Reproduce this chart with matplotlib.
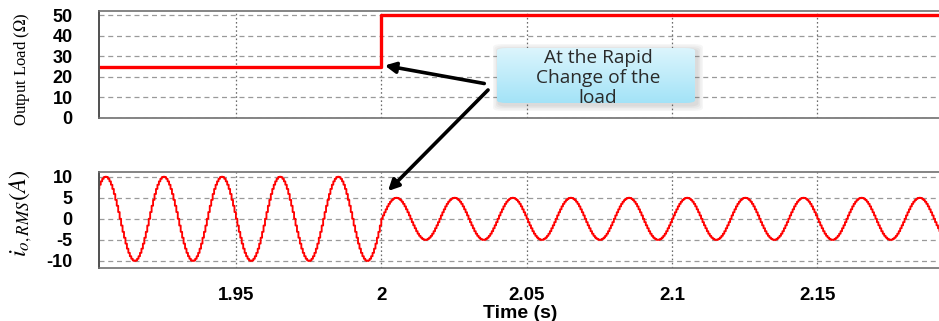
import numpy as np
import matplotlib
matplotlib.use("Agg")
import matplotlib.pyplot as plt
from matplotlib.patches import FancyBboxPatch, FancyArrowPatch

plt.rcParams["mathtext.fontset"] = "stix"

# ---------------- data ----------------
x_limits = [1.9029, 2.1925]
x_ticks = [1.95, 2.0, 2.05, 2.1, 2.15]
x_tick_labels = ["1.95", "2", "2.05", "2.1", "2.15"]

load_time = [1.90, 2.0, 2.20]          # step times (s)
load_value = [25, 50, 50]              # output load (ohm)
load_ticks = [0, 10, 20, 30, 40, 50]

change_time = 2.0
amp_before = 10.0                      # current peak before load change (A)
amp_after = 5.0                        # current peak after load change (A)
sample_dt = 0.0005                     # staircase step of the inverter output (s)
t_start, t_end = 1.90, 2.20
# one 20 ms cycle of the (normalised) staircase current
cycle_shape = [0.00, 0.16, 0.31, 0.45, 0.59, 0.71, 0.81, 0.89, 0.95, 0.99,
               1.00, 0.99, 0.95, 0.89, 0.81, 0.71, 0.59, 0.45, 0.31, 0.16,
               0.00, -0.16, -0.31, -0.45, -0.59, -0.71, -0.81, -0.89, -0.95, -0.99,
               -1.00, -0.99, -0.95, -0.89, -0.81, -0.71, -0.59, -0.45, -0.31, -0.16]
current_ticks = [-10, -5, 0, 5, 10]

# build current trace from the cycle
n = int(round((t_end - t_start) / sample_dt)) + 1
t = t_start + sample_dt * np.arange(n)
idx = np.round((t - t_start) / sample_dt).astype(int) % len(cycle_shape)
shape = np.array(cycle_shape)[idx]
current = np.where(t < change_time - 1e-9, amp_before, amp_after) * shape

# ---------------- figure ----------------
W, H = 939, 321
fig = plt.figure(figsize=(W / 100, H / 100), dpi=100)
fig.patch.set_facecolor("white")

def fx(x):
    return x / W

def fy(y):
    return 1 - y / H

ax1 = fig.add_axes([fx(99), fy(118), 1 - fx(99) + 0.002, fy(11) - fy(118)])
ax2 = fig.add_axes([fx(99), fy(268), 1 - fx(99) + 0.002, fy(171.7) - fy(268)])

tick_font = dict(family="Liberation Sans", weight="bold")

for ax in (ax1, ax2):
    ax.set_xlim(*x_limits)
    ax.set_xticks(x_ticks)
    ax.tick_params(length=0)
    for s in ("top", "bottom"):
        ax.spines[s].set_color("#707070")
        ax.spines[s].set_linewidth(1.2)
    ax.spines["left"].set_color("#505050")
    ax.spines["left"].set_linewidth(1.4)
    ax.spines["right"].set_visible(False)
    ax.grid(axis="y", linestyle=(0, (4, 3)), color="#9a9a9a", linewidth=0.9)
    ax.grid(axis="x", linestyle=(0, (1.3, 2)), color="#6a6a6a", linewidth=0.9)
    ax.set_axisbelow(True)

# top: output load
ax1.step(load_time, load_value, where="post", color="#ff0000", linewidth=2.4)
ax1.set_ylim(0, 52)
ax1.set_yticks(load_ticks)
ax1.set_yticklabels([str(v) for v in load_ticks], fontsize=13, **tick_font)
ax1.tick_params(axis="y", pad=19)
ax1.set_xticklabels([])

# bottom: output current
ax2.step(t, current, where="post", color="#ff0000", linewidth=1.35)
ax2.set_ylim(-11.7, 11.2)
ax2.set_yticks(current_ticks)
ax2.set_yticklabels([str(v) for v in current_ticks], fontsize=13, **tick_font)
ax2.tick_params(axis="y", pad=19)
ax2.set_xticklabels(x_tick_labels, fontsize=13.5, **tick_font)
ax2.tick_params(axis="x", pad=14)

# axis labels placed in figure coordinates
fig.text(fx(520), fy(313), "Time (s)", fontsize=14, ha="center", va="center",
         **tick_font)
fig.text(fx(22), (fy(20) + fy(118)) / 2, r"Output Load ($\mathit{\Omega}$)",
         family="Liberation Serif", fontsize=12, rotation=90,
         ha="center", va="center")
fig.text(fx(21), fy(213), r"$i_{o,RMS}(A)$",
         fontsize=17.5, rotation=90, ha="center", va="center")

# ---------------- annotation box ----------------
bx0, by0, bx1, by1 = 497, 48, 695, 103
# soft shadow
for i, a in enumerate([0.05, 0.05, 0.06, 0.07]):
    g = 6 - i * 1.5
    sh = FancyBboxPatch((fx(bx0 - g + 2), fy(by1 + g + 2)),
                        fx(bx1 - bx0 + 2 * g), fy(0) - fy(by1 - by0 + 2 * g),
                        boxstyle="round,pad=0,rounding_size=0.01",
                        transform=fig.transFigure, facecolor="#606060",
                        edgecolor="none", alpha=a, zorder=5)
    fig.add_artist(sh)

bax = fig.add_axes([fx(bx0), fy(by1), fx(bx1 - bx0), fy(by0) - fy(by1)], zorder=6)
grad = np.linspace(0, 1, 64)[:, None]
c_top = np.array([0.86, 0.96, 0.99])
c_bot = np.array([0.64, 0.89, 0.97])
img = c_top[None, None, :] * (1 - grad[:, :, None]) + c_bot[None, None, :] * grad[:, :, None]
bax.imshow(img, aspect="auto", extent=[0, 1, 0, 1], origin="upper")
bax.set_axis_off()
clip = FancyBboxPatch((0, 0), 1, 1, boxstyle="round,pad=0,rounding_size=0.05",
                      transform=bax.transAxes, facecolor="none", edgecolor="none")
bax.add_patch(clip)
bax.images[0].set_clip_path(clip)

fig.text(fx(598), fy(78), "At the Rapid\nChange of the\nload", family="Open Sans",
         fontsize=13.8, color="#2a2a2a", ha="center", va="center",
         linespacing=1.12, zorder=7)

# ---------------- arrows ----------------
for (x0, y0, x1, y1) in [(487, 84, 382, 65), (490, 88, 386, 193)]:
    arr = FancyArrowPatch((fx(x0), fy(y0)), (fx(x1), fy(y1)),
                          transform=fig.transFigure, arrowstyle="-|>",
                          mutation_scale=16, linewidth=2.6, color="black",
                          zorder=8)
    fig.add_artist(arr)

fig.savefig("out.png", dpi=100, facecolor="white")
